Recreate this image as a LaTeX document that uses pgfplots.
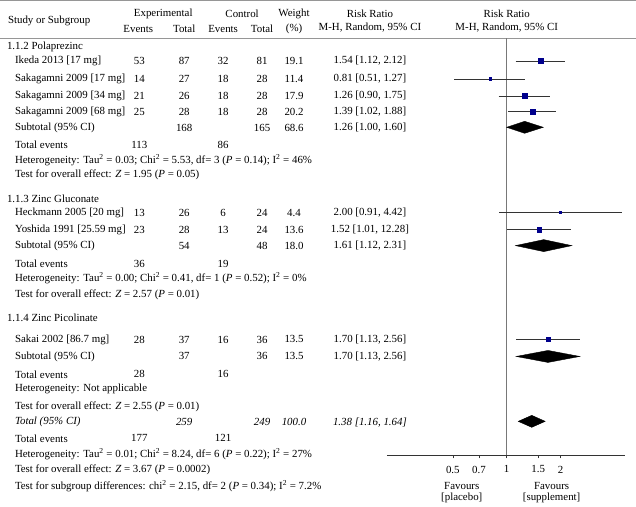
\documentclass[border=0pt]{standalone}
\usepackage{pgfplots}
\pgfplotsset{compat=1.18}
\usepackage{fontspec}
\setmainfont{Liberation Serif}
\definecolor{sq}{RGB}{0,0,140}
\definecolor{rule}{RGB}{150,150,150}
\newcommand{\sq}{\textsuperscript{2}}
\begin{document}
\begin{tikzpicture}[x=1pt,y=-1pt,font=\fontsize{10.9}{12}\selectfont]
\path (0,0) rectangle (636,506);
\draw[rule,line width=1pt] (0,1) -- (636,1);
\draw[rule,line width=0.9pt] (0,38.5) -- (636,38.5);
% headers
\node[anchor=west] at (4,21) {Study or Subgroup};
\node at (163,14) {Experimental};
\node at (138,29) {Events};
\node at (184,29) {Total};
\node at (242,14) {Control};
\node at (223,29) {Events};
\node at (262,29) {Total};
\node at (294,14) {Weight};
\node at (294,29) {(\%)};
\node at (370,14) {Risk Ratio};
\node at (370,28) {M-H, Random, 95\% CI};
\node at (507,14) {Risk Ratio};
\node at (507,28) {M-H, Random, 95\% CI};
% subgroup headings
\node[anchor=west] at (3,47) {1.1.2 Polaprezinc};
\node[anchor=west] at (3,199) {1.1.3 Zinc Gluconate};
\node[anchor=west] at (3,318) {1.1.4 Zinc Picolinate};
% rows
\newcommand{\row}[8]{%
 \node[anchor=west] at (11,#1) {#2};
 \node at (139,#1) {#3};
 \node at (184,#1) {#4};
 \node at (223,#1) {#5};
 \node at (262,#1) {#6};
 \node at (294,#1) {#7};
 \node at (370,#1) {#8};}
\row{61}{Ikeda 2013 [17 mg]}{53}{87}{32}{81}{19.1}{1.54 [1.12, 2.12]}
\row{79}{Sakagamni 2009 [17 mg]}{14}{27}{18}{28}{11.4}{0.81 [0.51, 1.27]}
\row{96}{Sakagamni 2009 [34 mg]}{21}{26}{18}{28}{17.9}{1.26 [0.90, 1.75]}
\row{112}{Sakagamni 2009 [68 mg]}{25}{28}{18}{28}{20.2}{1.39 [1.02, 1.88]}
\row{128}{Subtotal (95\% CI)}{}{168}{}{165}{68.6}{1.26 [1.00, 1.60]}
\row{145}{Total events}{113}{}{86}{}{}{}
\node[anchor=west] at (11,160) {Heterogeneity: Tau\sq{} = 0.03; Chi\sq{} = 5.53, df= 3 (\textit{P} = 0.14); I\sq{} = 46\%};
\node[anchor=west] at (11,175) {Test for overall effect: \textit{Z} = 1.95 (\textit{P} = 0.05)};
\row{213}{Heckmann 2005 [20 mg]}{13}{26}{6}{24}{4.4}{2.00 [0.91, 4.42]}
\row{230}{Yoshida 1991 [25.59 mg]}{23}{28}{13}{24}{13.6}{1.52 [1.01, 12.28]}
\row{246}{Subtotal (95\% CI)}{}{54}{}{48}{18.0}{1.61 [1.12, 2.31]}
\row{264}{Total events}{36}{}{19}{}{}{}
\node[anchor=west] at (11,279) {Heterogeneity: Tau\sq{} = 0.00; Chi\sq{} = 0.41, df= 1 (\textit{P} = 0.52); I\sq{} = 0\%};
\node[anchor=west] at (11,295) {Test for overall effect: \textit{Z} = 2.57 (\textit{P} = 0.01)};
\row{340}{Sakai 2002 [86.7 mg]}{28}{37}{16}{36}{13.5}{1.70 [1.13, 2.56]}
\row{357}{Subtotal (95\% CI)}{}{37}{}{36}{13.5}{1.70 [1.13, 2.56]}
\row{375}{Total events}{28}{}{16}{}{}{}
\node[anchor=west] at (11,390) {Heterogeneity: Not applicable};
\node[anchor=west] at (11,407) {Test for overall effect: \textit{Z} = 2.55 (\textit{P} = 0.01)};
\row{423}{\textit{Total (95\% CI)}}{}{\textit{259}}{}{\textit{249}}{\textit{100.0}}{\textit{1.38 [1.16, 1.64]}}
\row{439}{Total events}{177}{}{121}{}{}{}
\node[anchor=west] at (11,455) {Heterogeneity: Tau\sq{} = 0.01; Chi\sq{} = 8.24, df= 6 (\textit{P} = 0.22); I\sq{} = 27\%};
\node[anchor=west] at (11,471) {Test for overall effect: \textit{Z} = 3.67 (\textit{P} = 0.0002)};
\node[anchor=west] at (11,487) {Test for subgroup differences: chi\sq{} = 2.15, df= 2 (\textit{P} = 0.34); I\sq{} = 7.2\%};
% favours
\node at (462,487) {Favours};
\node at (462,499) {[placebo]};
\node at (552,487) {Favours};
\node at (552,499) {[supplement]};
\begin{axis}[at={(387pt,-456pt)}, anchor=south west, scale only axis,
  width=238pt, height=417.5pt, xmode=log, xmin=0.2142, xmax=4.55,
  ymin=-456, ymax=-38.5, axis x line=bottom, axis y line=none,
  axis line style={-, black!80, line width=0.8pt},
  xtick={0.5,0.7,1,1.5,2}, xticklabels={0.5,0.7,1,1.5,2},
  tick align=outside, major tick length=3pt,
  tick style={black!80, line width=0.6pt},
  xticklabel style={font=\fontsize{10.9}{12}\selectfont, yshift=-4pt},
  clip=false]
\addplot[rule!80!black, line width=0.9pt] coordinates {(1,-38.5) (1,-456)};
% confidence intervals
\addplot[black!80, line width=0.7pt] coordinates {(1.12,-61) (2.12,-61)};
\addplot[black!80, line width=0.7pt] coordinates {(0.51,-79) (1.27,-79)};
\addplot[black!80, line width=0.7pt] coordinates {(0.90,-96) (1.75,-96)};
\addplot[black!80, line width=0.7pt] coordinates {(1.02,-112) (1.88,-112)};
\addplot[black!80, line width=0.7pt] coordinates {(0.91,-213) (4.42,-213)};
\addplot[black!80, line width=0.7pt] coordinates {(1.01,-230) (2.28,-230)};
\addplot[black!80, line width=0.7pt] coordinates {(1.13,-340) (2.56,-340)};
% point estimates
\addplot[only marks, mark=square*, sq, mark size=2.5pt] coordinates {(1.54,-61)};
\addplot[only marks, mark=square*, sq, mark size=1.2pt] coordinates {(0.81,-79)};
\addplot[only marks, mark=square*, sq, mark size=2.4pt] coordinates {(1.26,-96)};
\addplot[only marks, mark=square*, sq, mark size=2.5pt] coordinates {(1.39,-112)};
\addplot[only marks, mark=square*, sq, mark size=1.0pt] coordinates {(2.00,-213)};
\addplot[only marks, mark=square*, sq, mark size=2.1pt] coordinates {(1.52,-230)};
\addplot[only marks, mark=square*, sq, mark size=2.1pt] coordinates {(1.70,-340)};
% diamonds
\addplot[fill=black, draw=black] coordinates {(1.00,-127.5) (1.26,-121.5) (1.60,-127.5) (1.26,-133.5)} --cycle;
\addplot[fill=black, draw=black] coordinates {(1.12,-246) (1.61,-240) (2.31,-246) (1.61,-252)} --cycle;
\addplot[fill=black, draw=black] coordinates {(1.13,-357) (1.70,-351) (2.56,-357) (1.70,-363)} --cycle;
\addplot[fill=black, draw=black] coordinates {(1.16,-422) (1.38,-416) (1.64,-422) (1.38,-428)} --cycle;
\end{axis}
\end{tikzpicture}
\end{document}
